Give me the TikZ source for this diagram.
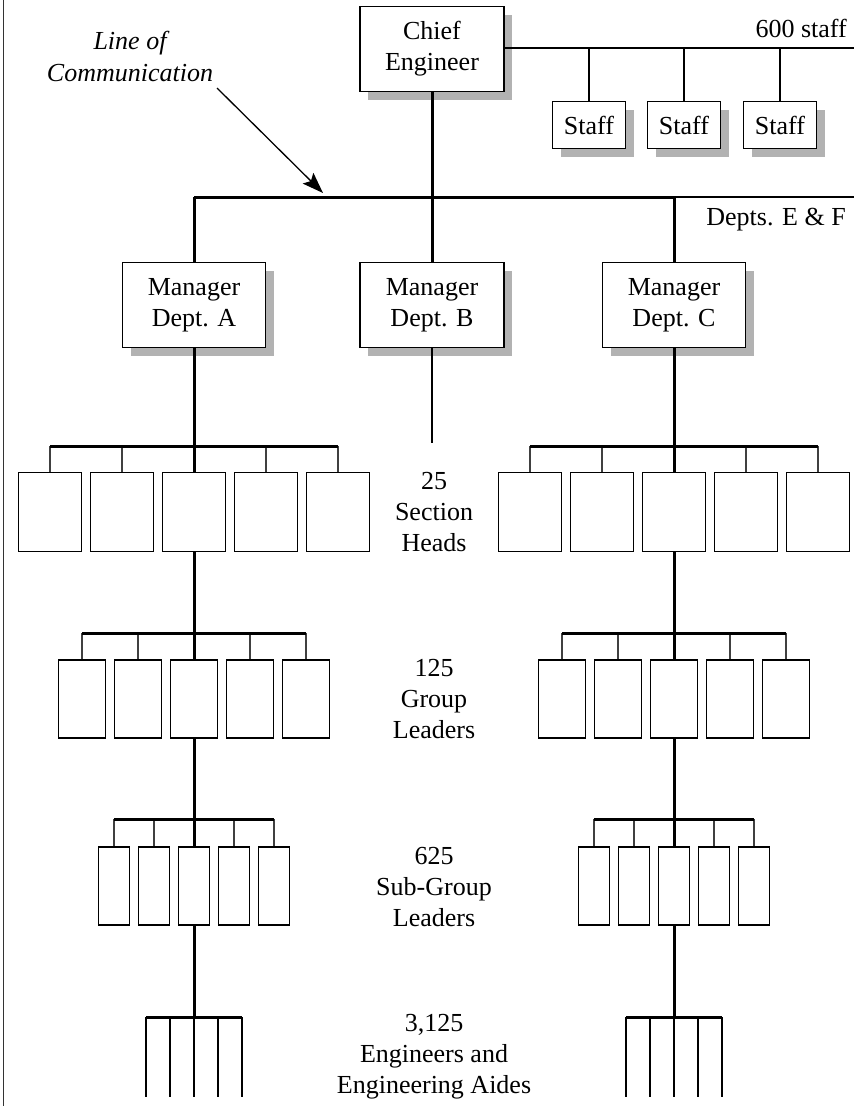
\documentclass[tikz,border=0pt]{standalone}
\usepackage{fontspec}
\setmainfont{Liberation Serif}
\usepackage{tikz}
\usetikzlibrary{shapes,arrows.meta,shadows}
\tikzset{
  trunk/.style={line width=3pt},
  thinline/.style={line width=1.3pt},
  tick/.style={line width=1.3pt, black!75},
  orgbox/.style={draw, line width=1.4pt, fill=white, inner sep=0pt, align=center},
  shadowbox/.style={orgbox, drop shadow={opacity=1, fill=black!30, shadow xshift=8pt, shadow yshift=-8pt}},
  secbox/.style={orgbox, minimum width=63pt, minimum height=79pt},
  grpbox/.style={orgbox, minimum width=47pt, minimum height=78pt},
  subbox/.style={orgbox, minimum width=31pt, minimum height=78pt},
}
\newcommand{\orghead}[5] {\node at (#1) (#2) [shadowbox, minimum width=#3, minimum height=#4] {#5};}
\newcommand{\orgrow}[6] {\foreach \k in {1,...,5} {\node at ({#1+(\k-3)*#3},#2) (#5\k) [#6] {}; \draw [tick] (#5\k.north) -- (#5\k.north |- 0,#4);}
  \draw [trunk] (#51.north |- 0,#4) -- (#55.north |- 0,#4);}
\newcommand{\orgrake}[4] {\foreach \k in {1,...,5} {\coordinate (#4\k) at ({#1+(\k-3)*#3},#2); \draw [thinline] (#4\k) -- ++(0,80);}
  \draw [trunk] (#41) -- (#45);}
\begin{document}
\begin{tikzpicture}[x=1pt, y=-1pt, font=\fontsize{26}{31}\selectfont]
\useasboundingbox (0,0) rectangle (854,1106);
\draw [line width=1.3pt, black!80] (3.5,0) -- (3.5,1106);

\orghead {432,49} {chief} {144pt} {85pt} {Chief\\Engineer};
\orghead {589,125} {staff1} {73pt} {47pt} {Staff};
\orghead {684,125} {staff2} {73pt} {47pt} {Staff};
\orghead {780,125} {staff3} {73pt} {47pt} {Staff};
\orghead {194,305} {mgrA} {143pt} {85pt} {Manager\\Dept. A};
\orghead {432,305} {mgrB} {144pt} {85pt} {Manager\\Dept. B};
\orghead {674,305} {mgrC} {143pt} {85pt} {Manager\\Dept. C};

\coordinate (staffend) at (854,48);
\coordinate (commbar) at (432,197);
\coordinate (deptend) at (854,197);
\coordinate (mgrBend) at (432,443);

\draw [thinline] (chief.east |- staffend) -- (staffend);
\draw [thinline] (staff1.north) -- (staff1.north |- staffend);
\draw [thinline] (staff2.north) -- (staff2.north |- staffend);
\draw [thinline] (staff3.north) -- (staff3.north |- staffend);
\node (staffnote) [anchor=base east, inner sep=0pt] at (847,37) {600 staff};

\draw [trunk] (chief.south) -- (commbar);
\draw [trunk] (mgrA.north |- commbar) -- (mgrC.north |- commbar);
\draw [thinline] (mgrC.north |- commbar) -- (deptend);
\draw [trunk] (mgrA.north |- commbar) -- (mgrA.north);
\draw [trunk] (commbar) -- (mgrB.north);
\draw [trunk] (mgrC.north |- commbar) -- (mgrC.north);
\draw [thinline] (mgrB.south) -- (mgrBend);
\node (deptnote) [anchor=base east, inner sep=0pt] at (846,225) {Depts. E \& F};

\node (comm) at (130,56) [align=center, font=\fontsize{26}{32}\selectfont\itshape] {Line of\\Communication};
\coordinate (commtip) at (323,193);
\draw [thinline, -{Stealth[length=21pt, width=15pt, inset=4pt]}] (217,88) -- (commtip);

% section heads
\orgrow {194}{512}{72}{446}{secA}{secbox};
\orgrow {674}{512}{72}{446}{secC}{secbox};
\node (secnote) at (434,512) [align=center] {25\\Section\\Heads};

% group leaders
\orgrow {194}{699}{56}{633}{grpA}{grpbox};
\orgrow {674}{699}{56}{633}{grpC}{grpbox};
\node (grpnote) at (434,699) [align=center] {125\\Group\\Leaders};

% sub-group leaders
\orgrow {194}{886}{40}{819}{subA}{subbox};
\orgrow {674}{886}{40}{819}{subC}{subbox};
\node (subnote) at (434,887) [align=center] {625\\Sub-Group\\Leaders};

% engineers
\orgrake {194}{1017}{24}{engA};
\orgrake {674}{1017}{24}{engC};
\node (engnote) at (434,1057) [align=center] {3,125\\Engineers and\\Engineering Aides};

\draw [trunk] (mgrA.south) -- (secA3.north);
\draw [trunk] (secA3.south) -- (grpA3.north);
\draw [trunk] (grpA3.south) -- (subA3.north);
\draw [trunk] (subA3.south) -- (engA3);
\draw [trunk] (mgrC.south) -- (secC3.north);
\draw [trunk] (secC3.south) -- (grpC3.north);
\draw [trunk] (grpC3.south) -- (subC3.north);
\draw [trunk] (subC3.south) -- (engC3);
\end{tikzpicture}
\end{document}
